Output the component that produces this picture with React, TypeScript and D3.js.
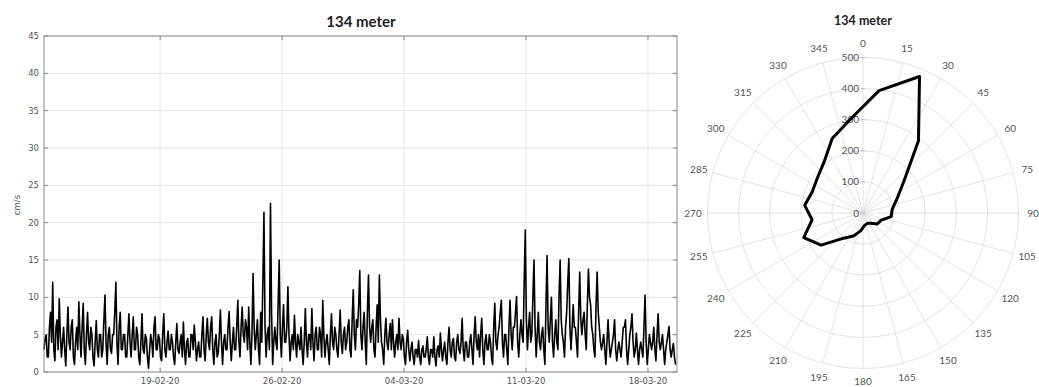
import React from 'react';
import * as d3 from 'd3';

const title = '134 meter';

// current speed (cm/s), one reading every 90 minutes from 12-02-20 08:00
const startTime = new Date(2020, 1, 12, 8);
const endTime = new Date(2020, 2, 19, 16);
const stepMinutes = 90;
const speed = [
  3, 4.5, 5, 2, 2, 6, 8, 4, 12, 3, 1.5, 6, 7, 3, 9.8, 5,
  2, 4, 6, 3, 0.8, 5, 8.7, 4, 3, 6, 7, 2, 1, 4, 6, 3,
  9.4, 5, 2, 6, 9.2, 3, 1, 5, 8, 4, 3, 6, 5, 2, 0.8, 4,
  6.9, 3, 2, 5, 5, 2, 3, 7, 10.3, 4, 1, 5, 6, 3, 2.5, 5,
  5, 8, 12, 4, 1, 6, 8, 3, 3, 5, 5, 2, 2, 5, 7.8, 4,
  2, 5, 7.4, 3, 3, 6, 5, 2, 1, 4, 7.8, 3, 2.5, 5, 4.5, 2,
  0.5, 3, 5, 4, 2, 6, 7.4, 3, 3, 5, 4.5, 2, 1.5, 5, 7.8, 3,
  2, 4, 5.5, 3, 3, 5, 4, 2, 1, 4, 6.5, 3, 2.5, 4, 5, 2,
  6.7, 3, 1, 4, 4.5, 2, 2, 5, 5, 3, 6.3, 4, 1.5, 3, 4, 2,
  2, 5, 7.4, 3, 1.5, 5, 7.2, 4, 3, 6, 7.4, 3, 1, 4, 5, 2,
  2.5, 5, 8.3, 4, 1, 4, 5, 3, 3, 6, 8.1, 4, 1.5, 4, 6, 3,
  3, 6, 9.6, 4, 2, 6, 8.7, 5, 4, 7, 6, 3, 8.7, 4, 1, 5,
  13.2, 6, 3, 5, 7, 3, 1, 8, 4, 12, 21.4, 6, 2, 5, 6, 3,
  22.6, 8, 1, 4, 6, 4, 3, 9, 15, 5, 2, 6, 9, 4, 4, 6,
  11.4, 5, 1.5, 4, 5, 3, 7.6, 4, 2, 5, 4, 3, 6, 3, 1, 4,
  8.5, 4, 2, 5, 5, 3, 8.5, 4, 1.5, 5, 6, 3, 3, 6, 5, 2,
  9.6, 5, 2, 4, 5, 3, 1, 5, 7.8, 4, 3, 6, 5, 3, 2, 5,
  8.3, 4, 2.5, 5, 6, 3, 4, 6, 7, 3, 2, 7, 11, 5, 3, 7,
  6, 9, 13.6, 5, 3, 6, 8, 4, 1, 8, 13, 6, 4, 6, 7, 3,
  2, 6, 9, 4, 13, 7, 4, 3, 1, 5, 7.2, 4, 3, 5, 6.5, 3,
  7, 4, 2, 4, 5, 3, 7.2, 4, 3, 5, 4.5, 2, 1, 4, 5.6, 3,
  1.5, 3, 4, 2, 1, 3, 3, 2, 4.2, 2, 1, 3, 3.5, 2, 2, 3,
  4.7, 2, 1, 3, 3, 2, 4.7, 2, 0.8, 3, 3.5, 2, 5.2, 3, 1.5, 3,
  4, 2, 1, 4, 6, 3, 2, 4, 4.5, 2, 1.5, 4, 5, 3, 2.5, 4,
  7.2, 3, 1.5, 4, 4, 2, 2, 4, 5, 3, 1, 5, 7.4, 4, 3, 5,
  2, 5, 7.2, 3, 1, 4, 5, 3, 3, 5, 4, 2, 1, 6, 9.2, 4,
  3, 5, 6, 8, 9.6, 4, 2, 5, 5, 3, 1, 6, 9.6, 5, 3, 6,
  6, 8, 10.1, 4, 2, 5, 7, 5, 4, 12, 19, 7, 3, 6, 8, 4,
  5, 10, 15, 6, 2, 5, 8, 4, 3, 5, 6, 3, 1, 9, 15.6, 6,
  4, 7, 10, 4, 2, 5, 7, 4, 3, 10, 15, 7, 5, 4, 2, 6,
  8, 12, 15.2, 6, 3, 6, 9, 6, 6, 4, 2, 8, 13.4, 7, 5, 7,
  8, 5, 3, 9, 13.8, 10, 9, 6, 5, 3, 2, 9, 13.4, 8, 6, 4,
  3, 4, 5, 3, 1, 4, 7, 4, 2, 3, 4, 5, 7, 3, 1.5, 3,
  4, 3, 2, 4, 6, 6, 7, 3, 1, 3, 5, 6, 7.8, 4, 2, 3,
  5.2, 3, 1, 3, 4, 3, 2, 6, 10.3, 4, 1, 3, 5, 4, 3, 4,
  6, 3, 1.5, 5, 7.8, 4, 3, 4, 5, 3, 1, 3, 4, 5, 6.1, 3,
  2, 3, 3.8, 2, 1,
];
const dateTicks = ['2020-02-19', '2020-02-26', '2020-03-04', '2020-03-11', '2020-03-18'];
const speedTicks = [0, 5, 10, 15, 20, 25, 30, 35, 40, 45];

// direction rose: bin centre (deg) and count
const dirBins = [7.5, 22.5, 37.5, 52.5, 67.5, 82.5, 97.5, 112.5, 127.5, 142.5, 157.5, 172.5,
  187.5, 202.5, 217.5, 232.5, 247.5, 262.5, 277.5, 292.5, 307.5, 322.5, 337.5, 352.5];
const dirCounts = [397, 475, 293, 165, 118, 95, 91, 62, 58, 42, 36, 40,
  58, 80, 102, 170, 206, 165, 189, 177, 185, 206, 259, 305];
const ringTicks = [0, 100, 200, 300, 400, 500];
const angleTicks = [0, 15, 30, 45, 60, 75, 90, 105, 120, 135, 150, 165,
  180, 195, 210, 225, 240, 255, 270, 285, 300, 315, 330, 345];

const parseDay = d3.timeParse('%Y-%m-%d');
const fmtDay = d3.timeFormat('%d-%m-%y');

export default function App() {
  const left = 44, right = 677, top = 36, bottom = 372;
  const x = d3.scaleTime().domain([startTime, endTime]).range([left, right]);
  const y = d3.scaleLinear().domain([0, 45]).range([bottom, top]);
  const pts: [Date, number][] = speed.map((v, i) => [d3.timeMinute.offset(startTime, i * stepMinutes), v]);
  const line = d3.line<[Date, number]>().x(d => x(d[0])).y(d => y(d[1]));
  const days = dateTicks.map(s => parseDay(s) as Date);

  const cx = 863, cy = 213;
  const r = d3.scaleLinear().domain([0, 500]).range([0, 155.5]);
  const rad = (deg: number) => (deg * Math.PI) / 180;
  const rose = d3.lineRadial<number>()
    .angle((d, i) => rad(dirBins[i]))
    .radius(d => r(d))
    .curve(d3.curveLinearClosed);

  const axisCol = '#8a8a8a';
  const gridCol = '#e6e6e6';
  const textCol = '#555';

  return (
    <svg width={1039} height={387} style={{ position: 'absolute', left: 0, top: 0, background: '#fff' }}>
      {/* time series */}
      <g fontFamily="DejaVu Sans, sans-serif" fontSize={8.5} fill={textCol}>
        {speedTicks.map(t => (
          <line key={'gy' + t} x1={left} x2={right} y1={y(t)} y2={y(t)} stroke={gridCol} />
        ))}
        {days.map((d, i) => (
          <line key={'gx' + i} x1={x(d)} x2={x(d)} y1={top} y2={bottom} stroke={gridCol} />
        ))}
        <path d={line(pts) || ''} fill="none" stroke="#000" strokeWidth={1.6} strokeLinejoin="round" />
        <rect x={left} y={top} width={right - left} height={bottom - top} fill="none" stroke={axisCol} />
        {speedTicks.map(t => (
          <g key={'ty' + t}>
            <line x1={left} x2={left + 4} y1={y(t)} y2={y(t)} stroke={axisCol} />
            <line x1={right - 4} x2={right} y1={y(t)} y2={y(t)} stroke={axisCol} />
            <text x={left - 5} y={y(t) + 3} textAnchor="end">{t}</text>
          </g>
        ))}
        {days.map((d, i) => (
          <g key={'tx' + i}>
            <line x1={x(d)} x2={x(d)} y1={bottom} y2={bottom - 4} stroke={axisCol} />
            <line x1={x(d)} x2={x(d)} y1={top} y2={top + 4} stroke={axisCol} />
            <text x={x(d)} y={bottom + 12} textAnchor="middle">{fmtDay(d)}</text>
          </g>
        ))}
        <text transform={`translate(20,205) rotate(-90)`} textAnchor="middle">cm/s</text>
        <text x={361} y={27} textAnchor="middle" fontFamily="Lato, sans-serif" fontWeight="bold" fontSize={15} fill="#222">{title}</text>
      </g>

      {/* direction rose */}
      <g fontFamily="Lato, sans-serif" fontSize={10} fill={textCol}>
        {ringTicks.slice(1).map(t => (
          <circle key={'c' + t} cx={cx} cy={cy} r={r(t)} fill="none" stroke="#dadada" strokeWidth={0.8} />
        ))}
        {angleTicks.map(a => (
          <line key={'s' + a} x1={cx} y1={cy} x2={cx + r(500) * Math.sin(rad(a))} y2={cy - r(500) * Math.cos(rad(a))}
            stroke="#dadada" strokeWidth={0.8} />
        ))}
        {ringTicks.map(t => (
          <g key={'rl' + t}>
            <line x1={cx - 2} x2={cx + 2} y1={cy - r(t)} y2={cy - r(t)} stroke="#bbb" />
            <text x={cx - 4} y={cy - r(t) + 3.5} textAnchor="end">{t}</text>
          </g>
        ))}
        {angleTicks.map(a => (
          <text key={'al' + a} x={cx + 170 * Math.sin(rad(a))} y={cy - 170 * Math.cos(rad(a)) + 3.5 - (a === 180 ? 1.5 : 0)} textAnchor="middle">{a}</text>
        ))}
        <path d={rose(dirCounts) || ''} transform={`translate(${cx},${cy})`} fill="none" stroke="#000" strokeWidth={3} strokeLinejoin="round" />
        <text x={cx} y={25} textAnchor="middle" fontWeight="bold" fontSize={12.5} fill="#222">{title}</text>
      </g>
    </svg>
  );
}
